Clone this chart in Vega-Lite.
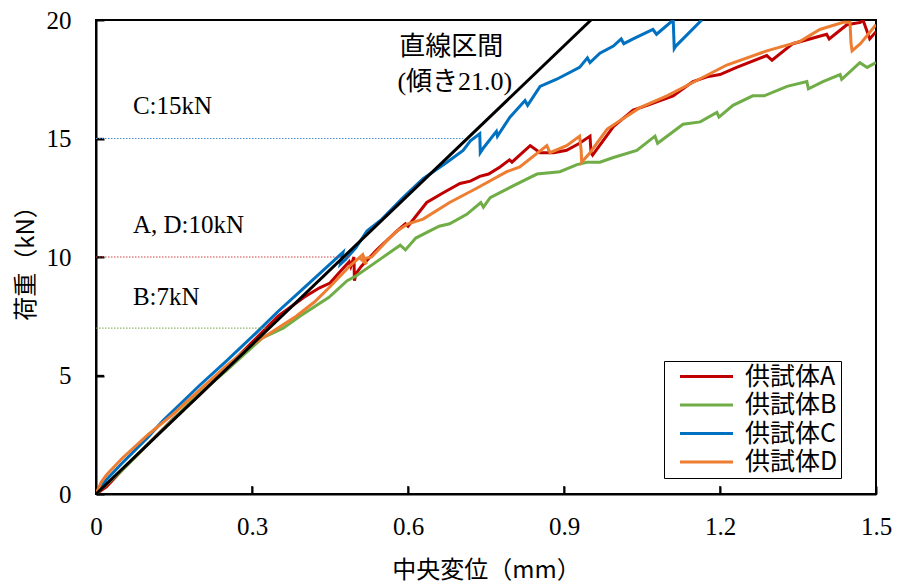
{
  "$schema": "https://vega.github.io/schema/vega-lite/v6.json",
  "width": 780,
  "height": 474,
  "autosize": {"type": "none"},
  "padding": {"left": 96, "top": 20, "right": 21, "bottom": 89},
  "background": "white",
  "config": {
    "view": {"stroke": "black", "strokeWidth": 2},
    "axis": {
      "domainColor": "black", "domainWidth": 2, "tickColor": "black", "tickWidth": 2, "tickOpacity": 1,
      "ticks": true, "tickSize": -8, "grid": false, "labelFont": "Liberation Serif", "labelFontSize": 25,
      "labelColor": "black", "labelFlush": false, "labelOverlap": false, "zindex": 2,
      "titleFont": "Noto Sans CJK JP", "titleFontSize": 24, "titleFontWeight": "normal", "titleColor": "black"
    },
    "legend": {
      "orient": "none", "legendX": 568, "legendY": 341, "strokeColor": "black", "fillColor": "white",
      "padding": 3, "symbolType": "M-5.3,0H5.3", "symbolStrokeWidth": 3, "symbolSize": 100, "symbolOffset": 27,
      "labelFont": "Noto Sans CJK JP", "labelFontSize": 25, "labelColor": "black", "labelOffset": 26, "rowPadding": 2.5
    }
  },
  "datasets": {
    "curves": [
      {"s":"供試体A","i":1,"x":0,"y":0},{"s":"供試体A","i":2,"x":0.02,"y":0.3},{"s":"供試体A","i":3,"x":0.05,"y":1.0},{"s":"供試体A","i":4,"x":0.1,"y":2.1},{"s":"供試体A","i":5,"x":0.15,"y":3.2},{"s":"供試体A","i":6,"x":0.2,"y":4.2},{"s":"供試体A","i":7,"x":0.25,"y":5.3},{"s":"供試体A","i":8,"x":0.3,"y":6.4},{"s":"供試体A","i":9,"x":0.35,"y":7.5},{"s":"供試体A","i":10,"x":0.4,"y":8.3},{"s":"供試体A","i":11,"x":0.43,"y":8.7},{"s":"供試体A","i":12,"x":0.45,"y":8.9},{"s":"供試体A","i":13,"x":0.47,"y":9.4},{"s":"供試体A","i":14,"x":0.487,"y":9.8},{"s":"供試体A","i":15,"x":0.49,"y":9.6},{"s":"供試体A","i":16,"x":0.496,"y":10.0},{"s":"供試体A","i":17,"x":0.497,"y":9.0},{"s":"供試体A","i":18,"x":0.5,"y":9.3},{"s":"供試体A","i":19,"x":0.51,"y":9.6},{"s":"供試体A","i":20,"x":0.54,"y":10.3},{"s":"供試体A","i":21,"x":0.579,"y":11.1},{"s":"供試体A","i":22,"x":0.595,"y":11.4},{"s":"供試体A","i":23,"x":0.6,"y":11.3},{"s":"供試体A","i":24,"x":0.636,"y":12.3},{"s":"供試体A","i":25,"x":0.667,"y":12.7},{"s":"供試体A","i":26,"x":0.7,"y":13.1},{"s":"供試体A","i":27,"x":0.72,"y":13.2},{"s":"供試体A","i":28,"x":0.738,"y":13.4},{"s":"供試体A","i":29,"x":0.755,"y":13.5},{"s":"供試体A","i":30,"x":0.777,"y":13.8},{"s":"供試体A","i":31,"x":0.795,"y":14.1},{"s":"供試体A","i":32,"x":0.8,"y":14.0},{"s":"供試体A","i":33,"x":0.81,"y":14.2},{"s":"供試体A","i":34,"x":0.835,"y":14.7},{"s":"供試体A","i":35,"x":0.854,"y":14.4},{"s":"供試体A","i":36,"x":0.88,"y":14.4},{"s":"供試体A","i":37,"x":0.905,"y":14.5},{"s":"供試体A","i":38,"x":0.93,"y":14.8},{"s":"供試体A","i":39,"x":0.95,"y":15.1},{"s":"供試体A","i":40,"x":0.952,"y":14.4},{"s":"供試体A","i":41,"x":0.955,"y":14.3},{"s":"供試体A","i":42,"x":0.995,"y":15.5},{"s":"供試体A","i":43,"x":1.033,"y":16.2},{"s":"供試体A","i":44,"x":1.06,"y":16.4},{"s":"供試体A","i":45,"x":1.085,"y":16.6},{"s":"供試体A","i":46,"x":1.11,"y":16.8},{"s":"供試体A","i":47,"x":1.148,"y":17.4},{"s":"供試体A","i":48,"x":1.175,"y":17.6},{"s":"供試体A","i":49,"x":1.2,"y":17.7},{"s":"供試体A","i":50,"x":1.232,"y":18.0},{"s":"供試体A","i":51,"x":1.29,"y":18.5},{"s":"供試体A","i":52,"x":1.3,"y":18.3},{"s":"供試体A","i":53,"x":1.34,"y":19.0},{"s":"供試体A","i":54,"x":1.405,"y":19.4},{"s":"供試体A","i":55,"x":1.41,"y":19.2},{"s":"供試体A","i":56,"x":1.444,"y":19.8},{"s":"供試体A","i":57,"x":1.47,"y":19.9},{"s":"供試体A","i":58,"x":1.475,"y":20.0},{"s":"供試体A","i":59,"x":1.488,"y":19.2},{"s":"供試体A","i":60,"x":1.5,"y":19.5},
      {"s":"供試体B","i":1,"x":0,"y":0},{"s":"供試体B","i":2,"x":0.05,"y":1.0},{"s":"供試体B","i":3,"x":0.1,"y":2.1},{"s":"供試体B","i":4,"x":0.192,"y":4.1},{"s":"供試体B","i":5,"x":0.25,"y":5.2},{"s":"供試体B","i":6,"x":0.321,"y":6.6},{"s":"供試体B","i":7,"x":0.36,"y":7.0},{"s":"供試体B","i":8,"x":0.392,"y":7.5},{"s":"供試体B","i":9,"x":0.448,"y":8.3},{"s":"供試体B","i":10,"x":0.483,"y":9.0},{"s":"供試体B","i":11,"x":0.5,"y":9.2},{"s":"供試体B","i":12,"x":0.546,"y":9.9},{"s":"供試体B","i":13,"x":0.585,"y":10.5},{"s":"供試体B","i":14,"x":0.595,"y":10.3},{"s":"供試体B","i":15,"x":0.615,"y":10.8},{"s":"供試体B","i":16,"x":0.642,"y":11.1},{"s":"供試体B","i":17,"x":0.66,"y":11.3},{"s":"供試体B","i":18,"x":0.68,"y":11.4},{"s":"供試体B","i":19,"x":0.713,"y":11.8},{"s":"供試体B","i":20,"x":0.74,"y":12.3},{"s":"供試体B","i":21,"x":0.745,"y":12.1},{"s":"供試体B","i":22,"x":0.758,"y":12.5},{"s":"供試体B","i":23,"x":0.802,"y":13.0},{"s":"供試体B","i":24,"x":0.848,"y":13.5},{"s":"供試体B","i":25,"x":0.892,"y":13.6},{"s":"供試体B","i":26,"x":0.925,"y":13.9},{"s":"供試体B","i":27,"x":0.944,"y":14.0},{"s":"供試体B","i":28,"x":0.969,"y":14.0},{"s":"供試体B","i":29,"x":0.995,"y":14.2},{"s":"供試体B","i":30,"x":1.04,"y":14.5},{"s":"供試体B","i":31,"x":1.075,"y":15.1},{"s":"供試体B","i":32,"x":1.08,"y":14.8},{"s":"供試体B","i":33,"x":1.129,"y":15.6},{"s":"供試体B","i":34,"x":1.162,"y":15.7},{"s":"供試体B","i":35,"x":1.194,"y":16.1},{"s":"供試体B","i":36,"x":1.198,"y":15.9},{"s":"供試体B","i":37,"x":1.225,"y":16.4},{"s":"供試体B","i":38,"x":1.263,"y":16.8},{"s":"供試体B","i":39,"x":1.285,"y":16.8},{"s":"供試体B","i":40,"x":1.329,"y":17.2},{"s":"供試体B","i":41,"x":1.367,"y":17.4},{"s":"供試体B","i":42,"x":1.37,"y":17.1},{"s":"供試体B","i":43,"x":1.398,"y":17.4},{"s":"供試体B","i":44,"x":1.431,"y":17.7},{"s":"供試体B","i":45,"x":1.434,"y":17.5},{"s":"供試体B","i":46,"x":1.469,"y":18.2},{"s":"供試体B","i":47,"x":1.483,"y":18.0},{"s":"供試体B","i":48,"x":1.5,"y":18.2},
      {"s":"供試体C","i":1,"x":0,"y":0},{"s":"供試体C","i":2,"x":0.02,"y":0.6},{"s":"供試体C","i":3,"x":0.05,"y":1.3},{"s":"供試体C","i":4,"x":0.1,"y":2.4},{"s":"供試体C","i":5,"x":0.129,"y":3.1},{"s":"供試体C","i":6,"x":0.2,"y":4.6},{"s":"供試体C","i":7,"x":0.25,"y":5.6},{"s":"供試体C","i":8,"x":0.308,"y":6.8},{"s":"供試体C","i":9,"x":0.35,"y":7.7},{"s":"供試体C","i":10,"x":0.4,"y":8.7},{"s":"供試体C","i":11,"x":0.44,"y":9.5},{"s":"供試体C","i":12,"x":0.47,"y":10.1},{"s":"供試体C","i":13,"x":0.475,"y":10.2},{"s":"供試体C","i":14,"x":0.47,"y":9.7},{"s":"供試体C","i":15,"x":0.48,"y":9.9},{"s":"供試体C","i":16,"x":0.5,"y":10.4},{"s":"供試体C","i":17,"x":0.521,"y":11.1},{"s":"供試体C","i":18,"x":0.55,"y":11.6},{"s":"供試体C","i":19,"x":0.59,"y":12.5},{"s":"供試体C","i":20,"x":0.629,"y":13.3},{"s":"供試体C","i":21,"x":0.675,"y":14.0},{"s":"供試体C","i":22,"x":0.706,"y":14.5},{"s":"供試体C","i":23,"x":0.72,"y":14.9},{"s":"供試体C","i":24,"x":0.738,"y":15.2},{"s":"供試体C","i":25,"x":0.739,"y":14.4},{"s":"供試体C","i":26,"x":0.745,"y":14.6},{"s":"供試体C","i":27,"x":0.77,"y":15.3},{"s":"供試体C","i":28,"x":0.772,"y":15.1},{"s":"供試体C","i":29,"x":0.796,"y":15.9},{"s":"供試体C","i":30,"x":0.825,"y":16.6},{"s":"供試体C","i":31,"x":0.83,"y":16.4},{"s":"供試体C","i":32,"x":0.854,"y":17.2},{"s":"供試体C","i":33,"x":0.886,"y":17.5},{"s":"供試体C","i":34,"x":0.93,"y":18.0},{"s":"供試体C","i":35,"x":0.945,"y":18.4},{"s":"供試体C","i":36,"x":0.95,"y":18.2},{"s":"供試体C","i":37,"x":0.969,"y":18.6},{"s":"供試体C","i":38,"x":0.995,"y":18.9},{"s":"供試体C","i":39,"x":1.01,"y":19.2},{"s":"供試体C","i":40,"x":1.015,"y":19.0},{"s":"供試体C","i":41,"x":1.033,"y":19.2},{"s":"供試体C","i":42,"x":1.071,"y":19.6},{"s":"供試体C","i":43,"x":1.078,"y":19.4},{"s":"供試体C","i":44,"x":1.11,"y":20.0},{"s":"供試体C","i":45,"x":1.112,"y":18.8},{"s":"供試体C","i":46,"x":1.115,"y":18.9},{"s":"供試体C","i":47,"x":1.165,"y":20.0},
      {"s":"供試体D","i":1,"x":0,"y":0},{"s":"供試体D","i":2,"x":0.01,"y":0.5},{"s":"供試体D","i":3,"x":0.02,"y":0.8},{"s":"供試体D","i":4,"x":0.05,"y":1.5},{"s":"供試体D","i":5,"x":0.1,"y":2.5},{"s":"供試体D","i":6,"x":0.15,"y":3.4},{"s":"供試体D","i":7,"x":0.2,"y":4.4},{"s":"供試体D","i":8,"x":0.25,"y":5.4},{"s":"供試体D","i":9,"x":0.3,"y":6.3},{"s":"供試体D","i":10,"x":0.35,"y":7.0},{"s":"供試体D","i":11,"x":0.385,"y":7.5},{"s":"供試体D","i":12,"x":0.42,"y":8.1},{"s":"供試体D","i":13,"x":0.448,"y":8.7},{"s":"供試体D","i":14,"x":0.487,"y":9.6},{"s":"供試体D","i":15,"x":0.513,"y":10.1},{"s":"供試体D","i":16,"x":0.52,"y":9.7},{"s":"供試体D","i":17,"x":0.51,"y":9.9},{"s":"供試体D","i":18,"x":0.53,"y":10.0},{"s":"供試体D","i":19,"x":0.56,"y":10.7},{"s":"供試体D","i":20,"x":0.579,"y":11.1},{"s":"供試体D","i":21,"x":0.6,"y":11.4},{"s":"供試体D","i":22,"x":0.629,"y":11.6},{"s":"供試体D","i":23,"x":0.68,"y":12.3},{"s":"供試体D","i":24,"x":0.732,"y":12.9},{"s":"供試体D","i":25,"x":0.79,"y":13.6},{"s":"供試体D","i":26,"x":0.815,"y":13.8},{"s":"供試体D","i":27,"x":0.867,"y":14.7},{"s":"供試体D","i":28,"x":0.873,"y":14.4},{"s":"供試体D","i":29,"x":0.905,"y":14.7},{"s":"供試体D","i":30,"x":0.93,"y":15.1},{"s":"供試体D","i":31,"x":0.933,"y":14.5},{"s":"供試体D","i":32,"x":0.934,"y":14.0},{"s":"供試体D","i":33,"x":0.95,"y":14.4},{"s":"供試体D","i":34,"x":0.983,"y":15.4},{"s":"供試体D","i":35,"x":1.046,"y":16.3},{"s":"供試体D","i":36,"x":1.098,"y":16.8},{"s":"供試体D","i":37,"x":1.16,"y":17.5},{"s":"供試体D","i":38,"x":1.213,"y":18.1},{"s":"供試体D","i":39,"x":1.29,"y":18.7},{"s":"供試体D","i":40,"x":1.354,"y":19.1},{"s":"供試体D","i":41,"x":1.392,"y":19.6},{"s":"供試体D","i":42,"x":1.437,"y":19.9},{"s":"供試体D","i":43,"x":1.45,"y":19.9},{"s":"供試体D","i":44,"x":1.452,"y":19.0},{"s":"供試体D","i":45,"x":1.454,"y":18.7},{"s":"供試体D","i":46,"x":1.47,"y":19.0},{"s":"供試体D","i":47,"x":1.5,"y":19.8}
    ],
    "refs": [
      {"s":"C","x":0,"x2":0.706,"y":15},
      {"s":"A","x":0,"x2":0.49,"y":10},
      {"s":"B","x":0,"x2":0.333,"y":7}
    ],
    "xticks": [{"v":0.3},{"v":0.6},{"v":0.9},{"v":1.2}],
    "yticks": [{"v":5},{"v":10},{"v":15}],
    "fit": [{"x":0,"y":0},{"x":0.952,"y":20}],
    "notes": [
      {"x":0.071,"y":16.37,"t":"C:15kN"},
      {"x":0.071,"y":11.35,"t":"A, D:10kN"},
      {"x":0.071,"y":8.31,"t":"B:7kN"}
    ],
    "notes2": [
      {"x":0.683,"y":18.86,"t":"直線区間"},
      {"x":0.69,"y":17.38,"t":"(傾き21.0)"}
    ]
  },
  "layer": [
    {
      "data": {"name": "curves"},
      "mark": {"type": "line", "strokeWidth": 3, "clip": true},
      "encoding": {
        "x": {"field": "x", "type": "quantitative", "scale": {"domain": [0, 1.5], "nice": false},
          "axis": {"values": [0, 0.3, 0.6, 0.9, 1.2, 1.5], "format": "~g", "title": "中央変位（mm）", "labelPadding": 28, "titlePadding": 19, "ticks": true, "tickSize": -8}},
        "y": {"field": "y", "type": "quantitative", "scale": {"domain": [0, 20], "nice": false},
          "axis": {"values": [0, 5, 10, 15, 20], "title": "荷重（kN）", "labelPadding": 33, "titlePadding": 8, "ticks": true, "tickSize": -8}},
        "color": {"field": "s", "type": "nominal",
          "scale": {"domain": ["供試体A", "供試体B", "供試体C", "供試体D"], "range": ["#C00000", "#70AD47", "#0070C0", "#ED7D31"]},
          "legend": {"title": null}},
        "order": {"field": "i", "type": "quantitative"}
      }
    },
    {
      "data": {"name": "xticks"},
      "mark": {"type": "rule", "color": "black", "strokeWidth": 1.3},
      "encoding": {
        "x": {"field": "v", "type": "quantitative"},
        "y": {"datum": 0},
        "y2": {"datum": 0.34}
      }
    },
    {
      "data": {"name": "yticks"},
      "mark": {"type": "rule", "color": "black", "strokeWidth": 1.3},
      "encoding": {
        "y": {"field": "v", "type": "quantitative"},
        "x": {"datum": 0},
        "x2": {"datum": 0.0154}
      }
    },
    {
      "data": {"name": "refs"},
      "transform": [{"filter": "datum.s === 'C'"}],
      "mark": {"type": "rule", "strokeWidth": 1, "strokeDash": [1.5, 1.5], "color": "#4A90D0"},
      "encoding": {
        "x": {"field": "x", "type": "quantitative"},
        "x2": {"field": "x2"},
        "y": {"field": "y", "type": "quantitative"}
      }
    },
    {
      "data": {"name": "refs"},
      "transform": [{"filter": "datum.s === 'A'"}],
      "mark": {"type": "rule", "strokeWidth": 1, "strokeDash": [1.5, 1.5], "color": "#D04040"},
      "encoding": {
        "x": {"field": "x", "type": "quantitative"},
        "x2": {"field": "x2"},
        "y": {"field": "y", "type": "quantitative"}
      }
    },
    {
      "data": {"name": "refs"},
      "transform": [{"filter": "datum.s === 'B'"}],
      "mark": {"type": "rule", "strokeWidth": 1, "strokeDash": [1.5, 1.5], "color": "#70A040"},
      "encoding": {
        "x": {"field": "x", "type": "quantitative"},
        "x2": {"field": "x2"},
        "y": {"field": "y", "type": "quantitative"}
      }
    },
    {
      "data": {"name": "fit"},
      "mark": {"type": "line", "color": "black", "strokeWidth": 3, "clip": true},
      "encoding": {
        "x": {"field": "x", "type": "quantitative"},
        "y": {"field": "y", "type": "quantitative"}
      }
    },
    {
      "data": {"name": "notes"},
      "mark": {"type": "text", "align": "left", "baseline": "middle", "font": "Liberation Serif", "fontSize": 25, "color": "black"},
      "encoding": {
        "x": {"field": "x", "type": "quantitative"},
        "y": {"field": "y", "type": "quantitative"},
        "text": {"field": "t"}
      }
    },
    {
      "data": {"name": "notes2"},
      "mark": {"type": "text", "align": "center", "baseline": "middle", "font": "Liberation Serif, Noto Sans CJK JP", "fontSize": 26, "color": "black"},
      "encoding": {
        "x": {"field": "x", "type": "quantitative"},
        "y": {"field": "y", "type": "quantitative"},
        "text": {"field": "t"}
      }
    }
  ]
}
